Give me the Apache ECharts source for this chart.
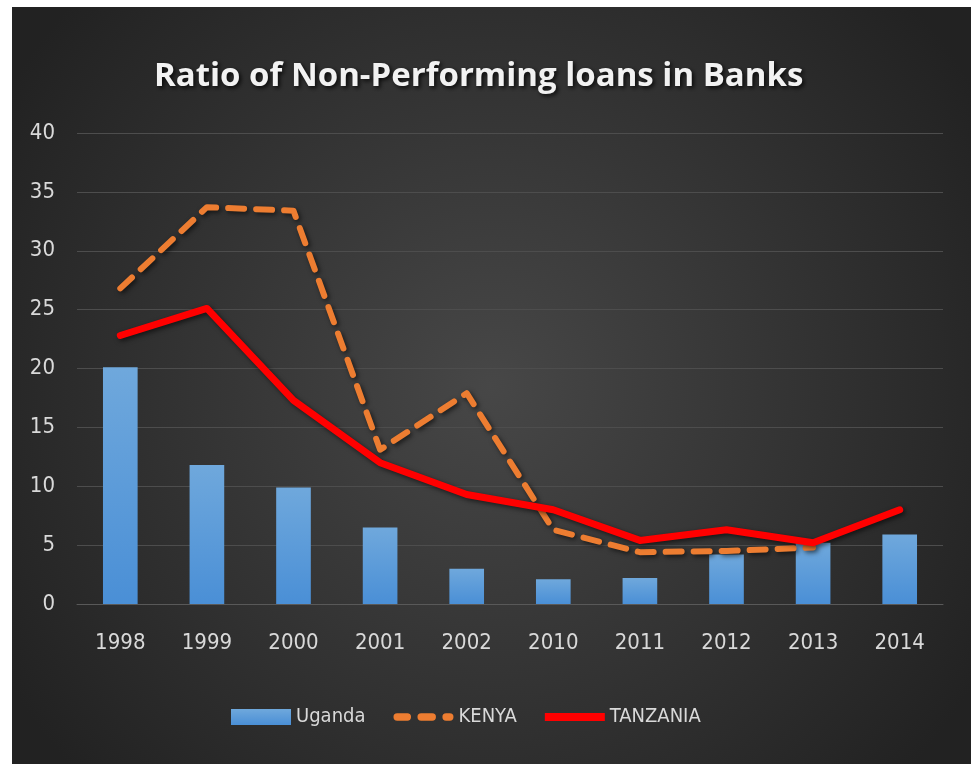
<!DOCTYPE html>
<html lang="en">
<head>
    <meta charset="UTF-8">
    <title>Ratio of Non-Performing loans in Banks</title>
    <style>
        html, body { margin: 0; padding: 0; background: #fff; }
        #chart {
            position: absolute;
            left: 12px;
            top: 7px;
            width: 959px;
            height: 757px;
        }
    </style>
</head>
<body>
    <div id="chart"></div>
    <script src="https://cdn.jsdelivr.net/npm/echarts@6/dist/echarts.min.js"></script>
    <script>
        // data
        var years = ['1998', '1999', '2000', '2001', '2002', '2010', '2011', '2012', '2013', '2014'];
        var uganda = [20.1, 11.8, 9.9, 6.5, 3.0, 2.1, 2.2, 4.2, 5.2, 5.9];
        var kenya = [26.8, 33.7, 33.4, 13.1, 17.9, 6.3, 4.4, 4.5, 4.8, null];
        var tanzania = [22.8, 25.1, 17.3, 12.0, 9.3, 8.0, 5.4, 6.3, 5.2, 8.0];

        var font = '"DejaVu Sans Condensed", "Liberation Sans Narrow", "Open Sans", sans-serif';
        // legend icons drawn as paths (solid bar, dashed bar)
        var solidIcon = 'path://M0,0H60V8H0Z';
        var dashIcon = 'path://M4,0H15A4,4 0 0 1 15,8H4A4,4 0 0 1 4,0Z' +
            'M30,0H42A4,4 0 0 1 42,8H30A4,4 0 0 1 30,0Z' +
            'M57,0H61A4,4 0 0 1 61,8H57A4,4 0 0 1 57,0Z';

        var myChart = echarts.init(document.getElementById('chart'));

        var option = {
            backgroundColor: {
                type: 'radial', x: 0.5, y: 0.5, r: 0.75,
                colorStops: [
                    { offset: 0, color: '#474747' },
                    { offset: 1, color: '#222222' }
                ]
            },
            title: {
                text: 'Ratio of Non-Performing loans in Banks',
                left: 137,
                top: 48,
                textStyle: {
                    color: '#f2f2f2',
                    fontFamily: '"Open Sans", sans-serif',
                    fontWeight: 'bold',
                    fontSize: 33,
                    textShadowColor: 'rgba(0,0,0,0.8)',
                    textShadowBlur: 4,
                    textShadowOffsetX: 2,
                    textShadowOffsetY: 2
                }
            },
            legend: {
                bottom: 32,
                left: 214,
                itemGap: 28,
                itemWidth: 60,
                itemHeight: 16,
                symbolKeepAspect: true,
                textStyle: { color: '#d9d9d9', fontSize: 20, fontFamily: font },
                data: [
                    { name: 'Uganda', icon: 'rect' },
                    { name: 'KENYA', icon: dashIcon },
                    { name: 'TANZANIA', icon: solidIcon }
                ]
            },
            grid: {
                left: 65,
                right: 28,
                top: 126,
                bottom: 160
            },
            xAxis: {
                type: 'category',
                data: years,
                axisLine: { show: true, lineStyle: { color: '#595959' } },
                axisTick: { show: false },
                axisLabel: { color: '#d9d9d9', fontSize: 22, fontFamily: font, margin: 28 }
            },
            yAxis: {
                type: 'value',
                min: 0,
                max: 40,
                interval: 5,
                axisLine: { show: false },
                axisTick: { show: false },
                axisLabel: { color: '#d9d9d9', fontSize: 22, fontFamily: font, margin: 22 },
                splitLine: { lineStyle: { color: '#4d4d4d', width: 1 } }
            },
            series: [
                {
                    name: 'Uganda',
                    type: 'bar',
                    data: uganda,
                    barWidth: '40%',
                    itemStyle: {
                        color: {
                            type: 'linear', x: 0, y: 0, x2: 0, y2: 1,
                            colorStops: [
                                { offset: 0, color: '#6fa8dc' },
                                { offset: 1, color: '#4a8fd6' }
                            ]
                        },
                        shadowColor: 'rgba(0,0,0,0.6)',
                        shadowBlur: 5,
                        shadowOffsetX: 2,
                        shadowOffsetY: 2
                    }
                },
                {
                    name: 'KENYA',
                    type: 'line',
                    data: kenya,
                    symbol: 'none',
                    itemStyle: { color: '#ed7d31' },
                    lineStyle: {
                        color: '#ed7d31',
                        width: 6,
                        type: [16, 12],
                        cap: 'round',
                        join: 'round',
                        shadowColor: 'rgba(0,0,0,0.6)',
                        shadowBlur: 5,
                        shadowOffsetX: 2,
                        shadowOffsetY: 2
                    }
                },
                {
                    name: 'TANZANIA',
                    type: 'line',
                    data: tanzania,
                    symbol: 'none',
                    itemStyle: { color: '#ff0000' },
                    lineStyle: {
                        color: '#ff0000',
                        width: 7,
                        cap: 'round',
                        join: 'round',
                        shadowColor: 'rgba(0,0,0,0.6)',
                        shadowBlur: 5,
                        shadowOffsetX: 2,
                        shadowOffsetY: 2
                    }
                }
            ]
        };
        myChart.setOption(option);
    </script>
</body>
</html>
